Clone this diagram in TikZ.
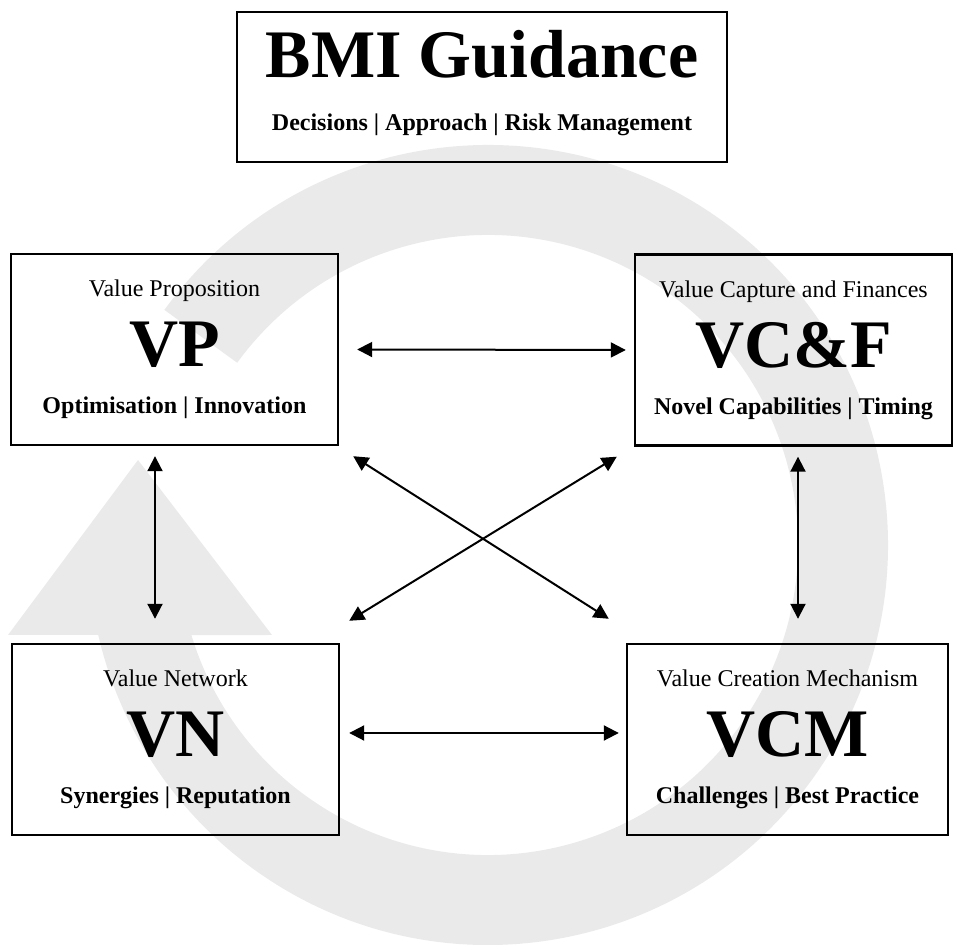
\documentclass[tikz,border=0pt]{standalone}
\usepackage{fontspec}
\setmainfont{Liberation Serif}
\usetikzlibrary{arrows.meta,calc}
\definecolor{ringgrey}{RGB}{234,234,234}

\begin{document}
\begin{tikzpicture}[x=0.5pt, y=0.5pt,
  textbox/.style={draw, line width=1.2pt, minimum height=95.5pt, inner sep=0, align=center, font=\fontsize{12}{35}\selectfont, execute at begin node=\rule{0pt}{11pt}},
  link/.style={line width=1pt, {Triangle[length=7.5pt,width=7.5pt]}-{Triangle[length=7.5pt,width=7.5pt]}}]
\useasboundingbox (0,0) rectangle (954,-945);
%circular arrow behind the boxes
\coordinate (c) at (488,-545);
\fill[ringgrey] ($(c)+(144:400)$) arc[start angle=144, end angle=-167, radius=200pt]
  -- (8,-635) -- (138,-460) -- (272,-635) -- ($(c)+(-163.1:310)$)
  arc[start angle=-163.1, end angle=144, radius=155pt] -- cycle;
%boxes
\node[textbox, minimum width=245pt, minimum height=75pt, font=\fontsize{12}{26.5}\selectfont\bfseries] (bmi) at (482,-87) {{\fontsize{34}{34}\selectfont BMI Guidance}\\Decisions | Approach | Risk Management\rule[-7pt]{0pt}{7pt}};
\node[textbox, minimum width=163.5pt] (vp) at (174.5,-349.5) {Value Proposition\\{\bfseries\fontsize{34}{34}\selectfont VP}\\[-11.5pt]\textbf{Optimisation | Innovation}};
\node[textbox, minimum width=158.5pt] (vcf) at (793.5,-350) {Value Capture and Finances\\{\bfseries\fontsize{34}{34}\selectfont VC\&F}\\[-11.5pt]\textbf{Novel Capabilities | Timing}};
\node[textbox, minimum width=163.5pt] (vn) at (175.5,-739.5) {Value Network\\{\bfseries\fontsize{34}{34}\selectfont VN}\\[-11.5pt]\textbf{Synergies | Reputation}};
\node[textbox, minimum width=160.5pt] (vcm) at (787.5,-739.5) {Value Creation Mechanism\\{\bfseries\fontsize{34}{34}\selectfont VCM}\\[-11.5pt]\textbf{Challenges | Best Practice}};
%connectors
\draw[link] ([xshift=9pt]vp.east) -- ([xshift=-4pt]vcf.west);
\draw[link] ([xshift=4.5pt,yshift=3.25pt]vn.east) -- ([xshift=-3.5pt,yshift=3.25pt]vcm.west);
\draw[link] ([xshift=-9.75pt,yshift=-5pt]vp.south) -- ([xshift=-10.25pt,yshift=12pt]vn.north);
\draw[link] ([xshift=2.25pt,yshift=-5pt]vcf.south) -- ([xshift=5.25pt,yshift=12pt]vcm.north);
\draw[link] ([xshift=7pt,yshift=-5pt]vp.south east) -- ([xshift=-8.5pt,yshift=12pt]vcm.north west);
\draw[link] ([xshift=-8.5pt,yshift=-5pt]vcf.south west) -- ([xshift=4.5pt,yshift=11pt]vn.north east);
\end{tikzpicture}
\end{document}
